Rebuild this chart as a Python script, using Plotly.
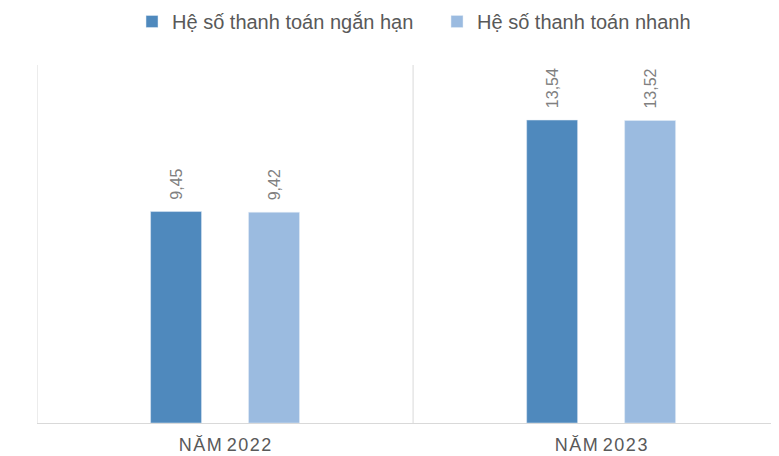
import plotly.graph_objects as go

categories = ["N\u200AĂ\u200AM 2\u200A0\u200A2\u200A2", "N\u200AĂ\u200AM 2\u200A0\u200A2\u200A3"]
series_names = ["Hệ số thanh toán ngắn hạn", "Hệ số thanh toán nhanh"]
ngan_han = [9.45, 13.54]
nhanh = [9.42, 13.52]
colors = ["#4F89BD", "#9BBBE0"]

def fmt(v):
    return "\u00a0\u00a0" + f"{v:.2f}".replace(".", ",")

fig = go.Figure()
for name, vals, c in zip(series_names, [ngan_han, nhanh], colors):
    fig.add_trace(go.Bar(
        x=categories, y=vals, name=name, marker_color=c,
        text=[fmt(v) for v in vals], textposition="outside", textangle=-90,
        textfont=dict(family="Liberation Sans, Arial", size=16, color="#808080"),
        cliponaxis=False,
    ))

fig.update_layout(
    width=779, height=456,
    margin=dict(l=29, r=8, t=57, b=41),
    paper_bgcolor="white", plot_bgcolor="white",
    barmode="group", bargap=0.479, bargroupgap=0.48,
    font=dict(family="Liberation Sans, Arial", color="#595959"),
    legend=dict(orientation="h", xref="container", x=0.1592, xanchor="left",
                yref="container", y=0.9704, yanchor="middle",
                font=dict(size=20, color="#595959"),
                itemwidth=30, entrywidth=260),
    xaxis=dict(range=[-0.5, 1.473], showgrid=False, showline=True, linecolor="#D9D9D9",
               linewidth=1, ticks="", ticklabelstandoff=5,
               tickfont=dict(size=18, color="#595959"), fixedrange=True),
    yaxis=dict(range=[0, 16], visible=False, showgrid=False),
)

for xv in [-0.5, 0.5]:
    fig.add_shape(type="line", x0=xv, x1=xv, y0=0, y1=1, xref="x", yref="paper",
                  line=dict(color="#D9D9D9", width=1), layer="below")

fig.write_html("out.html")
